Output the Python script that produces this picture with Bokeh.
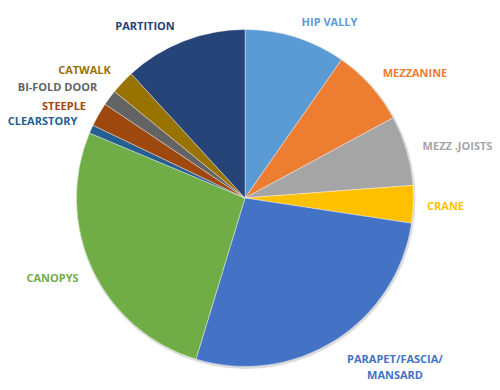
import math
from bokeh.plotting import figure
from bokeh.models import Range1d, ColumnDataSource
from bokeh.core.properties import value
from bokeh.embed import file_html
from bokeh.resources import INLINE

# ---- data (percent of total) ----
categories = ["HIP VALLY", "MEZZANINE", "MEZZ .JOISTS", "CRANE",
              "PARAPET/FASCIA/\nMANSARD", "CANOPYS", "CLEARSTORY", "STEEPLE",
              "BI-FOLD DOOR", "CATWALK", "PARTITION"]
shares = [9.7, 7.4, 6.7, 3.6, 27.3, 26.6, 0.8, 2.3, 1.5, 2.3, 11.8]

# ---- styles ----
colors = ["#5B9BD5", "#ED7D31", "#A5A5A5", "#FFC000", "#4472C4", "#70AD47",
          "#255E91", "#9E480E", "#636363", "#997300", "#264478"]

# ---- layout (page pixel coordinates) ----
W, H = 500, 390
CX, CY, R = 244.5, 197.5, 168.5
label_pos = [(329, 21), (414.5, 72), (457, 145), (445, 205), (394.5, 358),
             (52, 277), (42, 120), (63.5, 105), (57, 86), (84, 69), (144.5, 25)]
LINE_GAP = 16

total = sum(shares)
starts, ends = [], []
acc = 0.0
for v in shares:
    a0 = acc / total * 2 * math.pi
    acc += v
    a1 = acc / total * 2 * math.pi
    starts.append(math.pi / 2 - a0)
    ends.append(math.pi / 2 - a1)

src = ColumnDataSource(dict(start=starts, end=ends, color=colors,
                            x=[CX] * len(shares), y=[H - CY] * len(shares)))

p = figure(width=W, height=H, output_backend="svg", toolbar_location=None,
           x_range=Range1d(0, W), y_range=Range1d(0, H), min_border=0)
p.axis.visible = False
p.grid.visible = False
p.outline_line_color = None
p.background_fill_color = "white"
p.border_fill_color = "white"

# soft shadow
p.circle(x=CX + 0.8, y=H - CY - 1.2, radius=R + 1.2, fill_color="#9a9a9a",
         fill_alpha=0.35, line_color=None)
p.wedge(x="x", y="y", radius=R, start_angle="start", end_angle="end",
        direction="clock", fill_color="color", line_color="white",
        line_width=0.4, source=src)

lx, ly, lt, lc = [], [], [], []
for cat, col, (x, y) in zip(categories, colors, label_pos):
    lines = cat.split("\n")
    for i, ln in enumerate(lines):
        lx.append(x)
        ly.append(H - (y + i * LINE_GAP))
        lt.append(ln)
        lc.append(col)
lsrc = ColumnDataSource(dict(x=lx, y=ly, text=lt, color=lc))
p.text(x="x", y="y", text="text", text_color="color", source=lsrc,
       text_align="center", text_baseline="middle",
       text_font=value("Open Sans"), text_font_style="bold",
       text_font_size="11px")

open("out.html", "w").write(file_html(p, INLINE))
